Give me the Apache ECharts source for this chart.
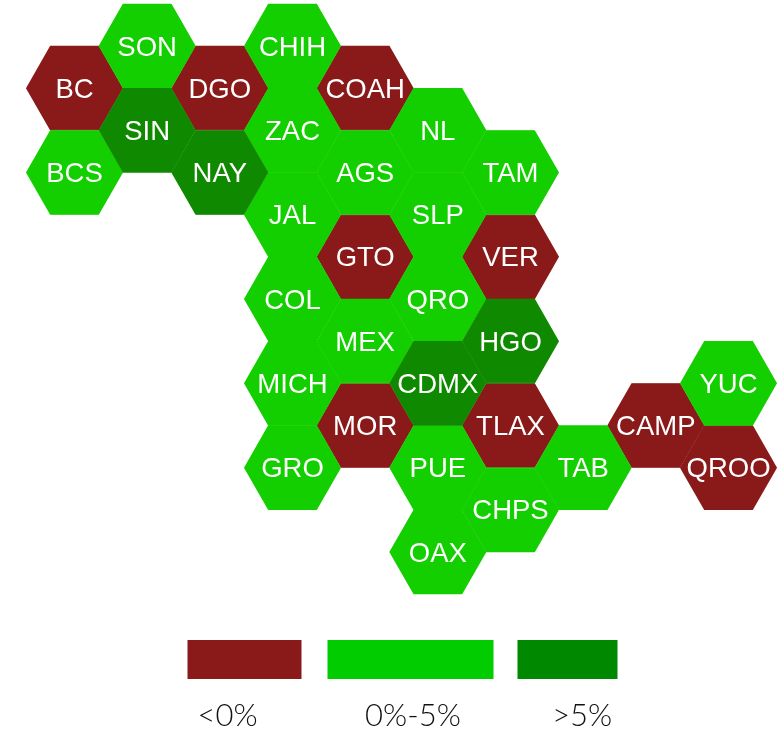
<!DOCTYPE html>
<html>
<head>
<meta charset="utf-8">
<style>html,body{margin:0;padding:0;background:#fff}#c{width:784px;height:731px}</style>
<script src="https://cdn.jsdelivr.net/npm/echarts@6/dist/echarts.min.js"></script>
</head>
<body>
<div id="c"></div>
<script>
const stateNames = ['SON','CHIH','BC','DGO','COAH','SIN','ZAC','NL','BCS','NAY','AGS','TAM','JAL','SLP','GTO','VER','COL','QRO','MEX','HGO','MICH','CDMX','YUC','MOR','TLAX','CAMP','GRO','PUE','TAB','QROO','CHPS','OAX'];
const stateColumns = [1,3,0,2,4,1,3,5,0,2,4,6,3,5,4,6,3,5,4,6,3,5,9,4,6,8,3,5,7,9,6,5];
const stateRows =    [0,0,1,1,1,2,2,2,3,3,3,3,4,4,5,5,6,6,7,7,8,8,8,9,9,9,10,10,10,10,11,12];
const stateGroups =  [1,1,0,0,0,2,1,1,1,2,1,1,1,1,0,0,1,1,1,2,1,2,1,0,0,0,1,1,1,0,1,1];
const groupColors = ['#8a1a1a','#14cf00','#0f8a00'];
const legendLabels = ['<0%','0%-5%','>5%'];
const legendColors = ['#8a1a1a','#00cc00','#008800'];

const hexPath = 'path://M24 0L72 0L96 42L72 84L24 84L0 42Z';
const swatches = [[187.5,114],[327.5,166],[517.5,100]];
const legendCenters = [227.5,413,582];
// Green hexes first so the red and dark cells sit on top of their seams, as in the source.
const drawOrder = [1,2,0];

const chart = echarts.init(document.getElementById('c'), null, {renderer:'canvas'});
chart.setOption({
  animation:false,
  backgroundColor:'#fff',
  grid:{left:74.5,top:46,width:654,height:506},
  xAxis:{type:'value',min:0,max:9,show:false},
  yAxis:{type:'value',min:0,max:12,inverse:true,show:false},
  series:drawOrder.map(g=>({
    type:'scatter',
    symbol:hexPath,
    symbolSize:[95.4,83.4],
    symbolKeepAspect:false,
    clip:false,
    z:2+g,
    data:stateNames.map((n,i)=>({n,i})).filter(d=>stateGroups[d.i]===g).map(d=>({
      name:d.n,
      value:[stateColumns[d.i],stateRows[d.i]]
    })),
    itemStyle:{color:groupColors[g],opacity:1,borderColor:groupColors[g],borderWidth:1.4},
    label:{
      show:true,position:'inside',formatter:'{b}',color:'#fff',offset:[0,2],
      fontFamily:'"Liberation Sans",Arial,sans-serif',fontSize:27.5
    },
    emphasis:{disabled:true}
  })),
  graphic:{elements:[
    ...swatches.map((s,i)=>({
      type:'rect',left:s[0],top:640,silent:true,
      shape:{width:s[1],height:39},
      style:{fill:legendColors[i]}
    })),
    ...legendLabels.map((t,i)=>({
      type:'text',silent:true,
      x:legendCenters[i],y:716,
      style:{text:t,fill:'#111',font:'300 31px Lato, "Open Sans", sans-serif',textAlign:'center',textVerticalAlign:'middle'}
    }))
  ]}
});
</script>
</body>
</html>
